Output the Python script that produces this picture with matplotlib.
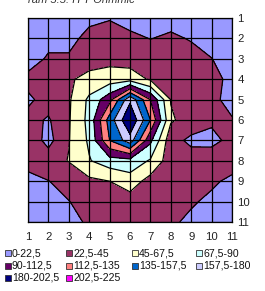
import matplotlib
matplotlib.use("Agg")
import matplotlib.pyplot as plt
from matplotlib.patches import Rectangle
import numpy as np

plt.rcParams["font.family"] = ["Liberation Sans", "DejaVu Sans"]

cols = list(range(1, 12))
rows = list(range(1, 12))

# surface values, row 1 (top) to row 11 (bottom), columns 1..11
values = [
    [10, 8, 12, 16, 20, 15, 17, 15, 15, 10, 8],
    [8, 14, 14, 31, 40, 27, 22, 26, 21, 12, 8],
    [10, 26, 26, 35, 38, 34, 35, 35, 30, 23, 10],
    [30, 35, 42, 52, 56, 58, 42, 35, 32, 28, 18],
    [18, 32, 42, 72, 105, 175, 112, 44, 33, 28, 15],
    [30, 20, 43, 74, 145, 202, 135, 48, 35, 27, 24],
    [38, 15, 44, 71, 135, 170, 95, 30, 18, 15, 30],
    [31, 35, 46, 66, 80, 82, 65, 32, 32, 38, 32],
    [15, 22, 30, 40, 45, 57, 36, 32, 30, 26, 18],
    [10, 15, 22, 30, 33, 34, 32, 30, 25, 18, 12],
    [5, 8, 15, 26, 30, 32, 30, 26, 18, 12, 8],
]

levels = [0, 22.5, 45, 67.5, 90, 112.5, 135, 157.5, 180, 202.5, 225]
band_labels = ["0-22,5", "22,5-45", "45-67,5", "67,5-90", "90-112,5",
               "112,5-135", "135-157,5", "157,5-180", "180-202,5", "202,5-225"]
band_colors = ["#9999FF", "#993366", "#FFFFCC", "#CCFFFF", "#660066",
               "#FF8080", "#0066CC", "#CCCCFF", "#000080", "#FF00FF"]

W, H = 265, 291
fig = plt.figure(figsize=(W / 100, H / 100), dpi=100)
ax = fig.add_axes([28 / W, 1 - 222 / H, 204 / W, 204 / H])

X, Y = np.meshgrid(cols, rows)
Z = np.array(values, dtype=float)
ax.contourf(X, Y, Z, levels=levels, colors=band_colors)
ax.contour(X, Y, Z, levels=levels[1:-1], colors="black", linewidths=0.9)

ax.set_xlim(1, 11)
ax.set_ylim(11, 1)
ax.set_xticks(cols)
ax.set_yticks(rows)
ax.grid(True, color="black", linewidth=0.9)
ax.set_axisbelow(False)
ax.yaxis.tick_right()
ax.tick_params(length=0, labelsize=8.2, colors="#222222")
ax.tick_params(axis="x", pad=7)
ax.tick_params(axis="y", pad=4)
for side in ax.spines.values():
    side.set_color("black")
    side.set_linewidth(0.9)

# caption above the chart, cut by the top edge as in the source
fig.text(28 / W, 1 - 3 / H, "ram 5.5. П Т Ohmmic", fontsize=8, style="italic",
         color="#333333", va="baseline", ha="left")

# legend, four entries per row
col_x = [5, 66, 132, 196]
row_y = [253, 266, 278]
for i, (lab, col) in enumerate(zip(band_labels, band_colors)):
    x0 = col_x[i % 4]
    y0 = row_y[i // 4]
    fig.add_artist(Rectangle((x0 / W, 1 - (y0 + 3) / H), 6 / W, 6 / H,
                             facecolor=col, edgecolor="#333333", linewidth=0.6,
                             transform=fig.transFigure))
    fig.text((x0 + 7) / W, 1 - y0 / H, lab, fontsize=7.6, color="#111111",
             va="center", ha="left")

fig.savefig("out.png", dpi=100)
